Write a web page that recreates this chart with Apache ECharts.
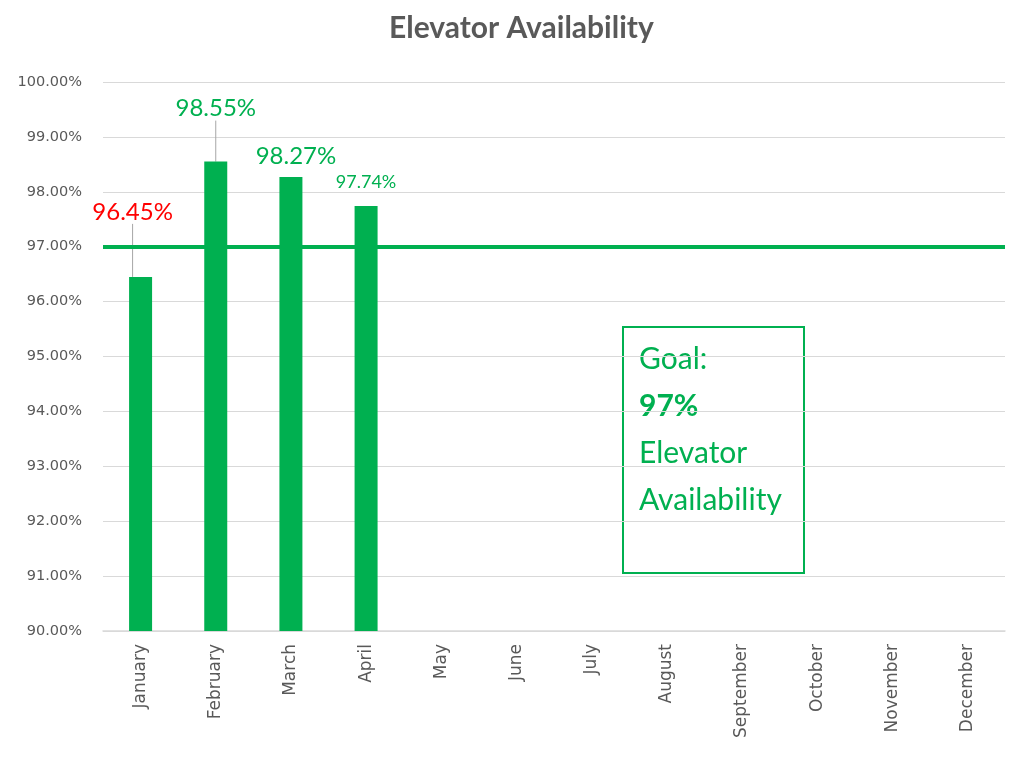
<!DOCTYPE html>
<html>
<head>
<meta charset="utf-8">
<script src="https://cdn.jsdelivr.net/npm/echarts@6/dist/echarts.min.js"></script>
<style>
  html, body { margin: 0; padding: 0; background: #fff; }
  #chart { width: 1029px; height: 770px; }
</style>
</head>
<body>
<div id="chart"></div>
<script>
// Monthly elevator availability (%) against the 97% goal
const months = ['January', 'February', 'March', 'April', 'May', 'June',
  'July', 'August', 'September', 'October', 'November', 'December'];
const availability = [96.45, 98.55, 98.27, 97.74];
const goal = 97;
const yTicks = { min: 90, max: 100, step: 1 };
const goalNote = ['Goal:', goal + '%', 'Elevator', 'Availability'];

const GREEN = '#00B050';
const RED = '#FF0000';
const GREY_TEXT = '#595959';
const FONT = 'Lato, "Open Sans", sans-serif';
const AXIS_FONT = '"DejaVu Sans", sans-serif';

// label placement and styling per bar
const labelSizes = [24, 24, 24, 18];
const labelShift = [[-8, -48], [0, -36], [5, -4], [0, -10]];
const showLeader = [true, true, false, false];

const barData = availability.map((v, i) => ({
  value: v,
  label: {
    color: v < goal ? RED : GREEN,
    fontSize: labelSizes[i]
  },
  labelLine: { show: showLeader[i] }
}));

// note box beside the goal line: one text line each, the figure in bold
const noteLines = goalNote.map((t, i) => ({
  type: 'text',
  x: 16,
  y: 32 + i * 47,
  style: {
    text: t,
    fill: GREEN,
    fontFamily: FONT,
    fontSize: 30,
    fontWeight: i === 1 ? 'bold' : 'normal',
    verticalAlign: 'middle'
  }
}));

const chart = echarts.init(document.getElementById('chart'));
chart.setOption({
  animation: false,
  title: {
    text: 'Elevator Availability',
    left: 384,
    top: 8,
    textStyle: { fontFamily: FONT, fontSize: 30, fontWeight: 'bold', color: GREY_TEXT }
  },
  grid: { left: 103, right: 24, top: 82, bottom: 139 },
  xAxis: {
    type: 'category',
    data: months,
    axisLine: { lineStyle: { color: '#d9d9d9', width: 1.5 } },
    axisTick: { show: false },
    axisLabel: {
      rotate: 90,
      margin: 13,
      fontFamily: AXIS_FONT,
      fontSize: 17,
      color: GREY_TEXT
    }
  },
  yAxis: {
    type: 'value',
    min: yTicks.min,
    max: yTicks.max,
    interval: yTicks.step,
    axisLine: { show: false },
    axisTick: { show: false },
    axisLabel: {
      margin: 21,
      fontFamily: AXIS_FONT,
      fontSize: 14.5,
      color: GREY_TEXT,
      formatter: v => v.toFixed(2) + '%'
    },
    splitLine: { lineStyle: { color: '#d9d9d9', width: 1.2 } }
  },
  series: [{
    type: 'bar',
    data: barData,
    barWidth: 23,
    itemStyle: { color: GREEN },
    label: {
      show: true,
      position: 'top',
      fontFamily: FONT,
      formatter: p => p.value.toFixed(2) + '%'
    },
    labelLine: { show: false, lineStyle: { color: '#a6a6a6', width: 1 } },
    labelLayout: p => ({ dx: labelShift[p.dataIndex][0], dy: labelShift[p.dataIndex][1] }),
    markLine: {
      silent: true,
      symbol: 'none',
      label: { show: false },
      lineStyle: { color: GREEN, width: 4, type: 'solid' },
      data: [{ yAxis: goal }]
    }
  }],
  graphic: [{
    type: 'group',
    left: 622,
    top: 326,
    z: 10,
    children: [{
      type: 'rect',
      shape: { x: 0, y: 0, width: 181, height: 246 },
      style: { fill: '#fff', stroke: GREEN, lineWidth: 2 }
    }].concat(noteLines)
  }]
});
</script>
</body>
</html>
